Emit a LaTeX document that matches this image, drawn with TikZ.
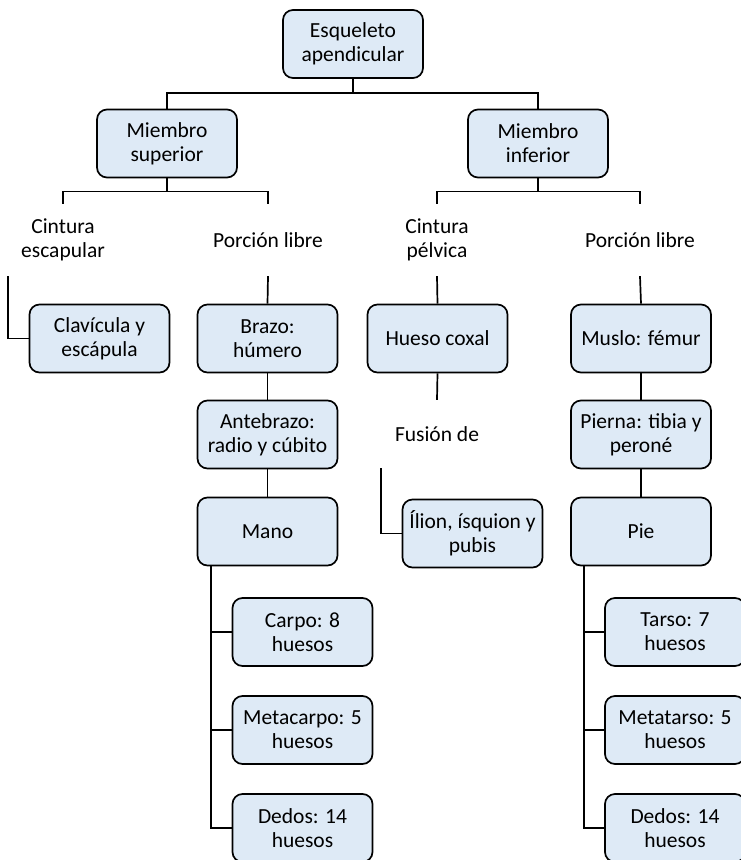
\documentclass[tikz,border=0pt]{standalone}
\usepackage{fontspec}
\setmainfont{Carlito}
\definecolor{boxfill}{HTML}{DEEAF6}
\begin{document}
\begin{tikzpicture}[x=1pt,y=-1pt,
  every node/.style={font=\fontsize{21.5}{24}\selectfont},
  box/.style={draw, rounded corners=10pt, fill=boxfill, line width=1.7pt,
    minimum width=140pt, minimum height=68pt, align=center, inner sep=1pt},
  lbl/.style={align=center, inner sep=0pt, minimum height=72pt},
  conn/.style={line width=1.7pt}]
\useasboundingbox (0,0) rectangle (741,860);

% boxes
\node[box] (esq)    at (353,44)    {Esqueleto\\apendicular};
\node[box] (msup)   at (167,143.5) {Miembro\\superior};
\node[box] (minf)   at (538,143.5) {Miembro\\inferior};
\node[box] (clav)   at (99.5,338.5) {Clavícula y\\escápula};
\node[box] (brazo)  at (267.5,338.5) {Brazo:\\húmero};
\node[box] (ante)   at (267.5,434.5) {Antebrazo:\\radio y cúbito};
\node[box] (mano)   at (267.5,531.5) {Mano};
\node[box] (carpo)  at (302.5,632) {Carpo: 8\\huesos};
\node[box] (metac)  at (302.5,730) {Metacarpo: 5\\huesos};
\node[box] (dedosa) at (302.5,828) {Dedos: 14\\huesos};
\node[box] (coxal)  at (437.5,338.5) {Hueso coxal};
\node[box] (ilion)  at (472.5,533.5) {Ílion, ísquion y\\pubis};
\node[box] (muslo)  at (641,338.5) {Muslo: fémur};
\node[box] (pierna) at (641,434.5) {Pierna: tibia y\\peroné};
\node[box] (pie)    at (641,531.5) {Pie};
\node[box] (tarso)  at (675,632) {Tarso: 7\\huesos};
\node[box] (metat)  at (675,730) {Metatarso: 5\\huesos};
\node[box] (dedosb) at (675,828) {Dedos: 14\\huesos};

% plain labels
\node[lbl, minimum width=110pt] (cesc)  at (63,240)  {Cintura\\escapular};
\node[lbl] (plsup) at (268,240) {Porción libre};
\node[lbl] (cpel)  at (437,240) {Cintura\\pélvica};
\node[lbl] (plinf) at (640,240) {Porción libre};
\node[lbl, minimum width=112pt, minimum height=68pt] (fusion) at (437,434) {Fusión de};

% connectors
\draw[conn] (esq.south) -- ++(0,14) -| (msup.north);
\draw[conn] (esq.south) ++(0,14) -| (minf.north);
\draw[conn] (msup.south) -- ++(0,13) -| (cesc.north);
\draw[conn] (msup.south) ++(0,13) -| (plsup.north);
\draw[conn] (minf.south) -- ++(0,13) -| (cpel.north);
\draw[conn] (minf.south) ++(0,13) -| (plinf.north);

\draw[conn] (cesc.south west) |- (clav.west);
\draw[conn] (plsup.south) -- (brazo.north);
\draw[conn] (brazo) -- (ante);
\draw[conn] (ante) -- (mano);
\draw[conn] ([xshift=14pt]mano.south west) |- (carpo.west);
\draw[conn] ([xshift=14pt]mano.south west) |- (metac.west);
\draw[conn] ([xshift=14pt]mano.south west) |- (dedosa.west);

\draw[conn] (cpel.south) -- (coxal.north);
\draw[conn] (coxal.south) -- (fusion.north);
\draw[conn] (fusion.south west) |- (ilion.west);

\draw[conn] (plinf.south) -- (muslo.north);
\draw[conn] (muslo) -- (pierna);
\draw[conn] (pierna) -- (pie);
\draw[conn] ([xshift=14pt]pie.south west) |- (tarso.west);
\draw[conn] ([xshift=14pt]pie.south west) |- (metat.west);
\draw[conn] ([xshift=14pt]pie.south west) |- (dedosb.west);
\end{tikzpicture}
\end{document}
